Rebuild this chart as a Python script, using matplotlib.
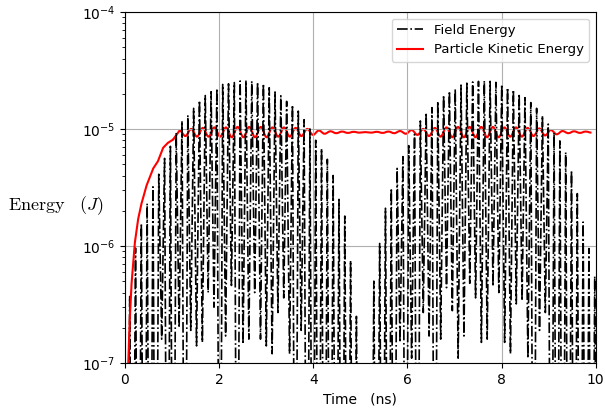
import numpy as np
import matplotlib
matplotlib.use('Agg')
import matplotlib.pyplot as plt
from matplotlib.path import Path
from matplotlib.patches import PathPatch

# field energy: one peak + one trough per oscillation, sampled on a 0.1235 ns grid
field_start = 0.10
field_step = 0.1235
field_peaks = [
    3.7e-7, 9.6e-7, 1.55e-6, 2.3e-6, 3.2e-6, 4.1e-6, 5.6e-6, 7.1e-6, 9.3e-6, 1.17e-5,
    1.31e-5, 1.5e-5, 1.75e-5, 1.93e-5, 2.08e-5, 2.22e-5, 2.4e-5, 2.43e-5, 2.49e-5, 2.57e-5,
    2.6e-5, 2.56e-5, 2.5e-5, 2.43e-5, 2.25e-5, 2.07e-5, 1.92e-5, 1.72e-5, 1.6e-5, 1.42e-5,
    1.2e-5, 1.0e-5, 8.0e-6, 6.8e-6, 5.5e-6, 4.0e-6, 2.5e-6, 1.8e-6, 7.5e-7, 2.5e-7,
    8e-8, 9e-8, 5e-7, 1.05e-6, 2.1e-6, 3.1e-6, 4.6e-6, 5.8e-6, 7.2e-6, 9.0e-6,
    1.17e-5, 1.38e-5, 1.52e-5, 1.72e-5, 1.94e-5, 2.1e-5, 2.2e-5, 2.37e-5, 2.46e-5, 2.52e-5,
    2.55e-5, 2.58e-5, 2.55e-5, 2.5e-5, 2.4e-5, 2.25e-5, 2.16e-5, 2.0e-5, 1.85e-5, 1.68e-5,
    1.5e-5, 1.3e-5, 1.1e-5, 9.3e-6, 7.9e-6, 6.3e-6, 4.4e-6, 2.8e-6, 1.6e-6, 9.5e-7,
    5.5e-7,
]
# troughs: before the first peak, between each pair of peaks, after the last one
field_troughs = [
    1e-10, 1e-10, 1e-10, 1e-10, 1e-10, 1e-10, 1.6e-7, 1e-10, 1e-10, 2e-7,
    1e-10, 1.9e-7, 1.4e-7, 1.5e-7, 4e-7, 3e-7, 1e-10, 1.7e-7, 4.6e-7, 1e-10,
    1.45e-7, 1.6e-7, 4e-7, 1.6e-7, 1.4e-7, 1.2e-7, 2.7e-7, 3.6e-7, 1.2e-7, 1e-10,
    1.9e-7, 1e-10, 1e-10, 1e-10, 1e-10, 1e-10, 1e-10, 1e-10, 1e-10, 1e-10,
    1e-10, 1e-10, 1e-10, 1e-10, 1e-10, 1e-10, 1e-10, 1.5e-7, 1e-10, 1.1e-7,
    1e-10, 2.7e-7, 1.7e-7, 1e-10, 1.6e-7, 4.4e-7, 2.8e-7, 1.1e-7, 1.7e-7, 4.8e-7,
    3.6e-7, 1.5e-7, 1.6e-7, 4.5e-7, 4.0e-7, 1.5e-7, 1.2e-7, 3.2e-7, 3.4e-7, 1.1e-7,
    1e-10, 1.9e-7, 2.7e-7, 1e-10, 1e-10, 1e-10, 1e-10, 1e-10, 1e-10, 1e-10,
    1e-10, 1e-10,
]

# particle kinetic energy: initial rise, then oscillation extrema
kin_rise_t = [0.03, 0.07, 0.10, 0.14, 0.21, 0.28, 0.35, 0.46, 0.60, 0.70, 0.81, 0.91, 1.02]
kin_rise = [3e-8, 1e-7, 2.3e-7, 4.8e-7, 1.07e-6, 1.7e-6, 2.3e-6, 3.3e-6, 4.6e-6, 5.3e-6,
            6.9e-6, 7.6e-6, 8.1e-6]
kin_start = 1.16
kin_step = 0.12325  # half period of the wiggle
kin_peaks = [
    9.7e-6, 1.0e-5, 1.02e-5, 1.03e-5, 1.03e-5, 1.04e-5, 1.04e-5, 1.04e-5, 1.03e-5, 1.03e-5,
    1.02e-5, 1.0e-5, 9.7e-6, 9.55e-6, 9.5e-6, 9.45e-6, 9.4e-6, 9.45e-6, 9.5e-6, 9.6e-6,
    9.8e-6, 1.0e-5, 1.02e-5, 1.03e-5, 1.04e-5, 1.04e-5, 1.04e-5, 1.04e-5, 1.03e-5, 1.03e-5,
    1.02e-5, 1.01e-5, 9.8e-6, 9.6e-6, 9.55e-6, 9.5e-6,
]
kin_troughs = [
    8.7e-6, 8.6e-6, 8.6e-6, 8.6e-6, 8.5e-6, 8.5e-6, 8.5e-6, 8.5e-6, 8.6e-6, 8.6e-6,
    8.7e-6, 8.9e-6, 9.1e-6, 9.2e-6, 9.25e-6, 9.3e-6, 9.3e-6, 9.25e-6, 9.2e-6, 9.1e-6,
    8.9e-6, 8.7e-6, 8.6e-6, 8.5e-6, 8.5e-6, 8.5e-6, 8.5e-6, 8.5e-6, 8.6e-6, 8.6e-6,
    8.7e-6, 8.8e-6, 9.0e-6, 9.2e-6, 9.25e-6, 9.3e-6,
]

plt.rcParams['mathtext.fontset'] = 'cm'

# interleave troughs and peaks of the field signal
peak_t = field_start + field_step * np.arange(len(field_peaks))
trough_t = field_start + field_step * (np.arange(len(field_troughs)) - 0.5)
field_t = np.empty(len(peak_t) + len(trough_t))
field_v = np.empty_like(field_t)
field_t[0::2], field_v[0::2] = trough_t, field_troughs
field_t[1::2], field_v[1::2] = peak_t, field_peaks

# kinetic extrema alternate peak / trough
ext_v = np.empty(len(kin_peaks) + len(kin_troughs))
ext_v[0::2] = kin_peaks
ext_v[1::2] = kin_troughs
ext_t = kin_start + kin_step * np.arange(len(ext_v))

fig = plt.figure(figsize=(6.05, 4.12), dpi=100)
ax = fig.add_axes([0.2066, 0.119, 0.778, 0.852])

ax.plot(field_t, field_v, color='black', ls='-.', lw=1.2, label='Field Energy')
ax.plot(kin_rise_t, kin_rise, color='red', lw=1.5, label='Particle Kinetic Energy')

# smooth wiggle: cubic segments with flat tangents at each extremum
verts = [(kin_rise_t[-1], kin_rise[-1]), (ext_t[0], ext_v[0])]
codes = [Path.MOVETO, Path.LINETO]
for i in range(len(ext_t) - 1):
    t0, t1 = ext_t[i], ext_t[i + 1]
    h = 0.3642 * (t1 - t0)
    verts += [(t0 + h, ext_v[i]), (t1 - h, ext_v[i + 1]), (t1, ext_v[i + 1])]
    codes += [Path.CURVE4] * 3
ax.add_patch(PathPatch(Path(verts, codes), fc='none', ec='red', lw=1.5))

ax.set_yscale('log')
ax.set_xlim(0, 10)
ax.set_ylim(1e-7, 1e-4)
ax.grid(True)
ax.set_xlabel('Time   (ns)', fontsize=10)
ax.set_ylabel(r'$\mathrm{Energy}\quad(J)$', rotation=0, fontsize=13, va='center')
ax.yaxis.set_label_coords(-0.147, 0.447)
ax.legend(loc='upper right', fontsize=9.5)

fig.savefig('out.png', dpi=100)
